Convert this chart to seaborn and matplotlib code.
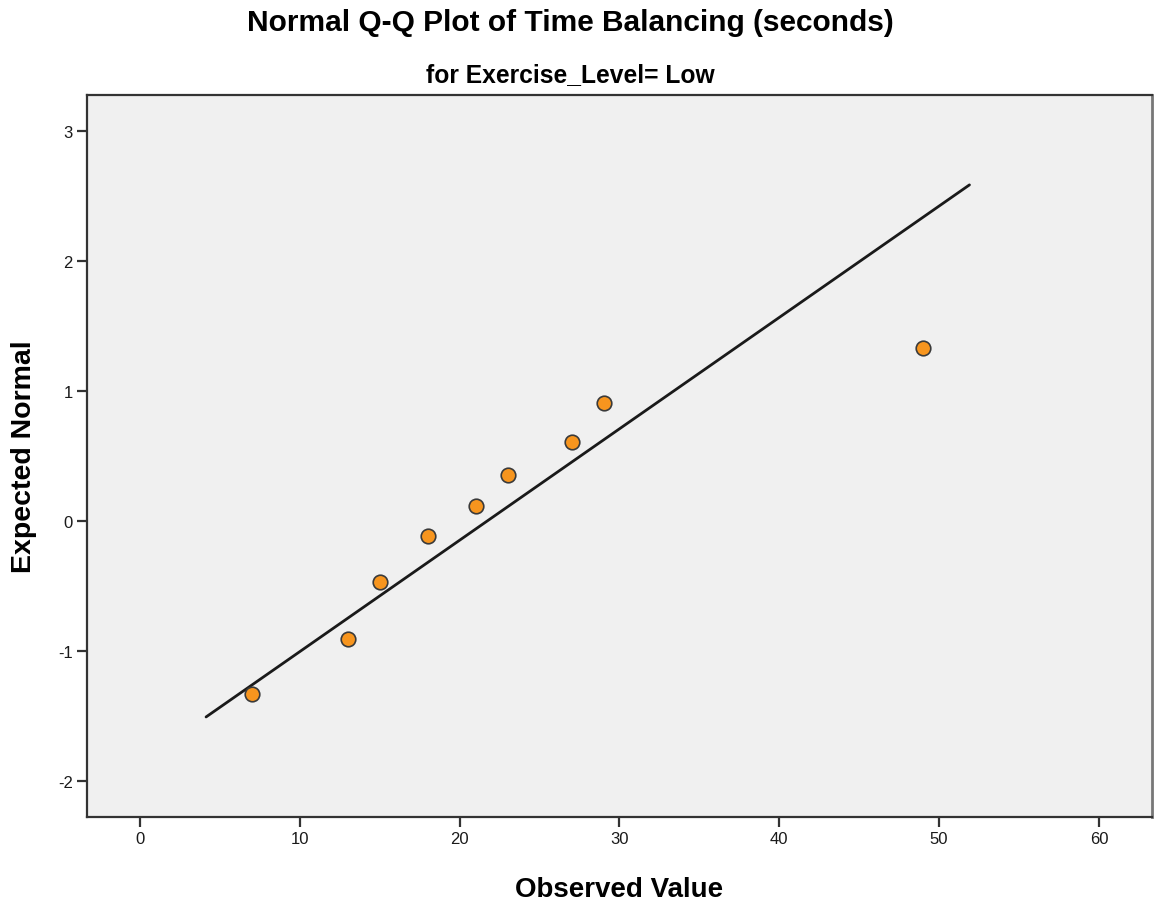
import numpy as np
import pandas as pd
import seaborn as sns
import matplotlib.pyplot as plt

observed = [7, 13, 15, 18, 21, 23, 27, 29, 49]
expected = [-1.33, -0.91, -0.47, -0.115, 0.115, 0.355, 0.605, 0.905, 1.33]

# reference line: expected = (x - mean) / sd
line_x = [4.13, 51.9]
line_mean = 21.75
line_sd = 11.67

x_ticks = [0, 10, 20, 30, 40, 50, 60]
y_ticks = [-2, -1, 0, 1, 2, 3]

df_pts = pd.DataFrame({'Observed Value': observed, 'Expected Normal': expected})
df_line = pd.DataFrame({'x': line_x})
df_line['y'] = (df_line['x'] - line_mean) / line_sd

sns.set_theme(style='ticks')
plt.rcParams['font.family'] = ['Liberation Sans', 'DejaVu Sans']
plt.rcParams['axes.unicode_minus'] = False
plt.rcParams['text.color'] = 'black'
plt.rcParams['axes.labelcolor'] = 'black'

fig = plt.figure(figsize=(11.55, 9.04), dpi=100)
ax = fig.add_axes([0.0756, 0.0955, 0.9215, 0.7983])
ax.set_facecolor('#F0F0F0')

sns.lineplot(data=df_line, x='x', y='y', color='#1a1a1a', linewidth=2.0, ax=ax)
sns.scatterplot(data=df_pts, x='Observed Value', y='Expected Normal', color='#F7951E',
                edgecolor='#3a3a3a', linewidth=1.2, s=110, zorder=3, ax=ax)

ax.set_xlim(-3.3, 63.3)
ax.set_ylim(-2.277, 3.275)
ax.set_xticks(x_ticks)
ax.set_yticks(y_ticks)
ax.tick_params(axis='both', direction='out', length=7, width=1.6, color='#333333',
               labelsize=12, labelcolor='#1a1a1a')
for side in ['left', 'right', 'top', 'bottom']:
    ax.spines[side].set_color('#333333')
    ax.spines[side].set_linewidth(1.6)
ax.spines['right'].set_color('#777777')
ax.spines['right'].set_linewidth(2.0)

ax.set_xlabel('Observed Value', fontsize=20, fontweight='bold')
ax.set_ylabel('Expected Normal', fontsize=20.5, fontweight='bold')
ax.xaxis.set_label_coords(0.5, -0.082)
ax.yaxis.set_label_coords(-0.047, 0.5)

fig.text(0.4935, 0.9745, 'Normal Q-Q Plot of Time Balancing (seconds)', ha='center', va='center',
         fontsize=21.5, fontweight='bold')
fig.text(0.4935, 0.917, 'for Exercise_Level= Low', ha='center', va='center',
         fontsize=17.7, fontweight='bold')

fig.savefig('out.png', dpi=100)
